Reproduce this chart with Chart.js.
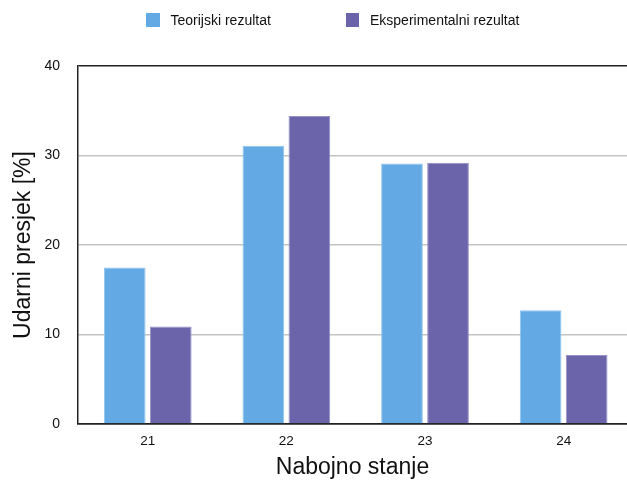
<!DOCTYPE html>
<html>
<head>
<meta charset="utf-8">
<script src="https://cdn.jsdelivr.net/npm/chart.js@4"></script>
<style>
  html, body { margin: 0; padding: 0; background: #fff; }
  #wrap { position: relative; width: 627px; height: 481px; }
  #legend { position: absolute; top: 0; left: 0; width: 627px; height: 40px;
            font: 14px 'Liberation Sans', Arial, sans-serif; color: #111; }
  .item { position: absolute; top: 13px; display: flex; align-items: center; height: 14px; white-space: nowrap; }
  .box { width: 13.5px; height: 13.5px; margin-right: 11px; box-sizing: border-box; }
</style>
</head>
<body>
<div id="wrap">
  <canvas id="chart" width="627" height="481"></canvas>
  <div id="legend"></div>
</div>
<script>
// values
var categories = [21, 22, 23, 24];
var theoryValues = [17.5, 31.1, 29.1, 12.7];
var experimentValues = [10.9, 34.4, 29.2, 7.7];
var yTicks = [0, 10, 20, 30, 40];

var seriesNames = ['Teorijski rezultat', 'Eksperimentalni rezultat'];
var fills = ['#63a9e3', '#6b64aa'];
var edges = ['#8fc4ee', '#9490c8'];

Chart.defaults.font.family = "'Liberation Sans', Arial, sans-serif";
Chart.defaults.color = '#111';

// legend (html, so the wide gap between the two items can be kept)
var legendLeft = [146, 345.5];
var legendEl = document.getElementById('legend');
seriesNames.forEach(function(name, i) {
    var item = document.createElement('div');
    item.className = 'item';
    item.style.left = legendLeft[i] + 'px';
    var box = document.createElement('span');
    box.className = 'box';
    box.style.background = fills[i];
    item.appendChild(box);
    item.appendChild(document.createTextNode(name));
    legendEl.appendChild(item);
});

function points(values) {
    return categories.map(function(c, i) { return { x: c, y: values[i] }; });
}

var ctx = document.getElementById('chart').getContext('2d');
new Chart(ctx, {
    type: 'bar',
    data: {
        datasets: [{
            label: seriesNames[0],
            data: points(theoryValues),
            backgroundColor: fills[0],
            borderColor: edges[0],
            borderWidth: 1
        }, {
            label: seriesNames[1],
            data: points(experimentValues),
            backgroundColor: fills[1],
            borderColor: edges[1],
            borderWidth: 1
        }]
    },
    options: {
        responsive: false,
        animation: false,
        events: [],
        categoryPercentage: 0.664,
        barPercentage: 0.906,
        layout: { padding: { top: 66, left: 0, right: 0, bottom: 0 } },
        plugins: {
            legend: { display: false },
            tooltip: { enabled: false }
        },
        scales: {
            x: {
                type: 'linear',
                offset: false,
                min: 20.497,
                max: 24.457,
                afterBuildTicks: function(scale) {
                    scale.ticks = categories.map(function(c) { return { value: c }; });
                },
                afterFit: function(scale) { scale.height = 57; },
                grid: { display: false, drawTicks: false, offset: false },
                border: { display: true, color: '#222', width: 1.5 },
                ticks: { padding: 9, font: { size: 13.5 }, color: '#111' },
                title: { display: true, text: 'Nabojno stanje', font: { size: 23 }, color: '#111', padding: { top: 0, bottom: 0 } }
            },
            y: {
                min: 0,
                max: 40,
                afterBuildTicks: function(scale) {
                    scale.ticks = yTicks.map(function(v) { return { value: v }; });
                },
                afterFit: function(scale) { scale.width = 78; },
                grid: {
                    drawTicks: false,
                    lineWidth: 1.5,
                    color: function(c) {
                        return (c.tick && (c.tick.value === 40 || c.tick.value === 0)) ? '#222' : '#c4c4c4';
                    }
                },
                border: { display: true, color: '#222', width: 1.5 },
                ticks: { padding: 18, font: { size: 14 }, color: '#111' },
                title: { display: true, text: 'Udarni presjek [%]', font: { size: 23 }, color: '#111', padding: { top: 10, bottom: 0 } }
            }
        }
    }
});
</script>
</body>
</html>
